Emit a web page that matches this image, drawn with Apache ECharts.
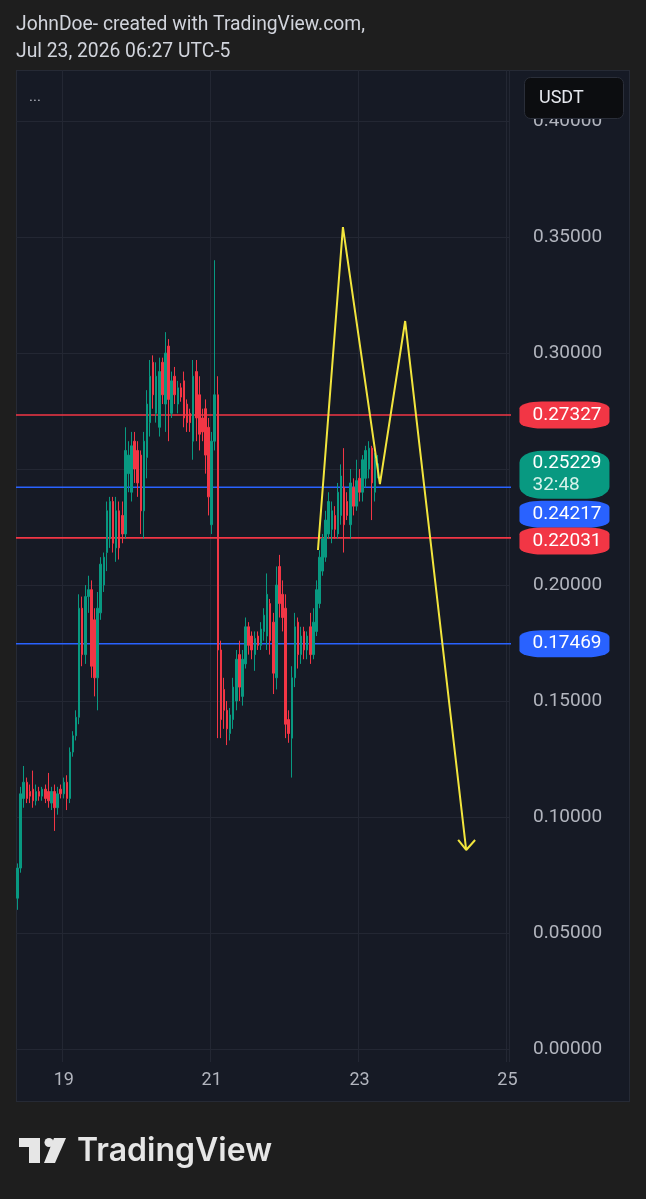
<!DOCTYPE html>
<html>
<head>
<meta charset="utf-8">
<script src="https://cdn.jsdelivr.net/npm/echarts@6/dist/echarts.min.js"></script>
<style>
  html, body { margin: 0; padding: 0; background: #1e1e1e; }
  #panel { position: absolute; left: 16px; top: 70px; width: 612px; height: 1030px; background: #161a25; border: 1px solid #262a35; }
  #chart { position: absolute; left: 0; top: 0; width: 646px; height: 1199px; }
</style>
</head>
<body>
<div id="panel"></div>
<div id="chart"></div>
<script>
// hourly candles, first one is Jul 18 09:00
const startDay = 18
const startHour = 9
const slotCount = 160 // hours on the time axis, up to Jul 25 00:00

const dayTicks = [19, 21, 23, 25]

// [open, high, low, close]
const ohlc = [
  [0.065, 0.080, 0.060, 0.078], [0.078, 0.113, 0.076, 0.110], [0.108, 0.122, 0.104, 0.115], [0.115, 0.117, 0.106, 0.108],
  [0.111, 0.114, 0.106, 0.109], [0.112, 0.120, 0.104, 0.107], [0.107, 0.114, 0.105, 0.111], [0.111, 0.113, 0.107, 0.109],
  [0.109, 0.113, 0.107, 0.112], [0.112, 0.114, 0.106, 0.108], [0.111, 0.119, 0.104, 0.107], [0.106, 0.113, 0.103, 0.111],
  [0.111, 0.114, 0.094, 0.104], [0.104, 0.113, 0.101, 0.110], [0.112, 0.114, 0.108, 0.110], [0.110, 0.117, 0.108, 0.115],
  [0.115, 0.118, 0.103, 0.108], [0.108, 0.130, 0.106, 0.128], [0.128, 0.137, 0.126, 0.135], [0.135, 0.146, 0.133, 0.143],
  [0.143, 0.196, 0.140, 0.190], [0.190, 0.195, 0.165, 0.170], [0.170, 0.200, 0.166, 0.195], [0.195, 0.204, 0.188, 0.198],
  [0.198, 0.202, 0.160, 0.165], [0.185, 0.190, 0.152, 0.160], [0.160, 0.197, 0.146, 0.190], [0.188, 0.212, 0.185, 0.209],
  [0.200, 0.214, 0.197, 0.212], [0.214, 0.236, 0.206, 0.232], [0.220, 0.238, 0.216, 0.236], [0.236, 0.238, 0.214, 0.218],
  [0.216, 0.238, 0.210, 0.232], [0.232, 0.236, 0.211, 0.216], [0.230, 0.236, 0.218, 0.222], [0.222, 0.268, 0.220, 0.258],
  [0.248, 0.262, 0.240, 0.256], [0.240, 0.266, 0.236, 0.260], [0.262, 0.266, 0.244, 0.250], [0.258, 0.262, 0.238, 0.244],
  [0.256, 0.258, 0.222, 0.232], [0.232, 0.266, 0.220, 0.262], [0.255, 0.284, 0.246, 0.278], [0.270, 0.297, 0.264, 0.290],
  [0.296, 0.299, 0.276, 0.282], [0.274, 0.296, 0.270, 0.290], [0.268, 0.298, 0.264, 0.292], [0.296, 0.298, 0.278, 0.282],
  [0.278, 0.309, 0.266, 0.300], [0.303, 0.306, 0.262, 0.280], [0.274, 0.292, 0.272, 0.288], [0.290, 0.294, 0.278, 0.282],
  [0.278, 0.288, 0.274, 0.285], [0.285, 0.287, 0.279, 0.281], [0.288, 0.292, 0.268, 0.272], [0.278, 0.280, 0.266, 0.270],
  [0.274, 0.276, 0.266, 0.270], [0.262, 0.297, 0.254, 0.290], [0.292, 0.297, 0.262, 0.272], [0.282, 0.290, 0.258, 0.265],
  [0.272, 0.276, 0.262, 0.266], [0.276, 0.280, 0.248, 0.256], [0.268, 0.272, 0.230, 0.238], [0.226, 0.266, 0.222, 0.262],
  [0.262, 0.340, 0.258, 0.282], [0.282, 0.290, 0.134, 0.172], [0.172, 0.176, 0.134, 0.142], [0.155, 0.160, 0.138, 0.146],
  [0.146, 0.150, 0.131, 0.138], [0.136, 0.147, 0.133, 0.144], [0.142, 0.160, 0.138, 0.156], [0.150, 0.172, 0.146, 0.168],
  [0.170, 0.176, 0.150, 0.156], [0.152, 0.172, 0.148, 0.168], [0.166, 0.186, 0.164, 0.182], [0.182, 0.184, 0.170, 0.174],
  [0.178, 0.180, 0.168, 0.172], [0.170, 0.180, 0.163, 0.177], [0.178, 0.180, 0.172, 0.174], [0.174, 0.184, 0.172, 0.181],
  [0.180, 0.190, 0.176, 0.187], [0.178, 0.205, 0.172, 0.196], [0.192, 0.194, 0.170, 0.176], [0.184, 0.188, 0.153, 0.162],
  [0.160, 0.208, 0.155, 0.200], [0.208, 0.213, 0.186, 0.192], [0.196, 0.202, 0.180, 0.186], [0.190, 0.196, 0.134, 0.140],
  [0.142, 0.146, 0.132, 0.136], [0.134, 0.165, 0.117, 0.160], [0.160, 0.188, 0.156, 0.182], [0.184, 0.186, 0.164, 0.170],
  [0.170, 0.182, 0.166, 0.178], [0.180, 0.182, 0.168, 0.172], [0.172, 0.180, 0.168, 0.178], [0.182, 0.188, 0.166, 0.170],
  [0.170, 0.190, 0.168, 0.184], [0.180, 0.202, 0.178, 0.198], [0.192, 0.215, 0.190, 0.212], [0.206, 0.222, 0.204, 0.220],
  [0.212, 0.232, 0.210, 0.228], [0.222, 0.240, 0.220, 0.236], [0.224, 0.236, 0.218, 0.232], [0.230, 0.234, 0.220, 0.224],
  [0.222, 0.244, 0.220, 0.240], [0.230, 0.252, 0.226, 0.247], [0.242, 0.259, 0.214, 0.226], [0.236, 0.240, 0.228, 0.230],
  [0.226, 0.250, 0.220, 0.244], [0.242, 0.246, 0.230, 0.234], [0.234, 0.254, 0.232, 0.245], [0.246, 0.250, 0.236, 0.240],
  [0.240, 0.256, 0.236, 0.254], [0.246, 0.260, 0.242, 0.258], [0.250, 0.262, 0.246, 0.259], [0.259, 0.260, 0.228, 0.244],
  [0.240, 0.257, 0.236, 0.254], [0.248, 0.256, 0.246, 0.25229]
]

// horizontal levels drawn on the chart
const levelValues = [0.27327, 0.24217, 0.22031, 0.17469]
const levelColors = ['#f23645', '#2962ff', '#f23645', '#2962ff']
const levelTagShift = [0, 27, 3, 0] // tags pushed apart on the price scale
const levelSpan = [-0.5, 162.5] // hours covered by the level lines (runs under the tags)

const lastPrice = 0.25229
const countdown = '32:48'

// hand drawn projection, x in hours from the first candle
const projX = [97.5, 105.6, 117.6, 125.8, 145.6]
const projY = [0.2151, 0.3543, 0.2435, 0.3138, 0.0858]
const arrowX = [143.0, 145.6, 148.5]
const arrowY = [0.0901, 0.0858, 0.0901]

const UP = '#089981'
const DOWN = '#f23645'
const FONT = 'Roboto, "Noto Sans", sans-serif'

const categories = []
for (let i = 0; i < slotCount; i++) {
  const h = startHour + i
  const d = startDay + Math.floor(h / 24)
  categories.push(d + ' ' + String(h % 24).padStart(2, '0') + ':00')
}
const isDayTick = val => val.endsWith(' 00:00') && dayTicks.includes(+val.split(' ')[0])
const lastSlot = categories[slotCount - 1]

const tag = (value, color, shift) => ({
  coord: [lastSlot, value],
  symbol: 'roundRect',
  symbolSize: [90, 27],
  symbolOffset: [57, shift],
  itemStyle: { color: color },
  label: {
    show: true,
    position: 'insideLeft',
    distance: 13,
    formatter: value.toFixed(5),
    color: '#ffffff',
    fontSize: 19,
    fontFamily: FONT
  }
})

// level lines as flat two point lines on the hidden hour axis
const levelSeries = levelValues.map((v, i) => ({
  type: 'line',
  xAxisIndex: 1,
  data: levelSpan.map(x => [x, v]),
  symbol: 'none',
  clip: false,
  silent: true,
  z: 1,
  lineStyle: { color: levelColors[i], width: 1.6 }
}))

const chart = echarts.init(document.getElementById('chart'))

chart.setOption({
  backgroundColor: 'transparent',
  animation: false,
  grid: { left: 16, right: 137, top: 70, bottom: 137 },
  xAxis: [
    {
      type: 'category',
      data: categories,
      boundaryGap: true,
      axisLine: { show: false },
      axisTick: { show: false, interval: (i, v) => isDayTick(v) },
      axisLabel: {
        interval: (i, v) => isDayTick(v),
        formatter: v => v.split(' ')[0],
        color: '#b2b5be',
        fontSize: 18,
        fontFamily: FONT,
        margin: 9
      },
      splitLine: { show: true, interval: (i, v) => isDayTick(v), lineStyle: { color: '#232733', width: 1 } }
    },
    { type: 'value', min: -0.5, max: slotCount - 0.5, show: false }
  ],
  yAxis: {
    type: 'value',
    position: 'right',
    min: -0.0056,
    max: 0.422,
    splitNumber: 8,
    axisLine: { show: false },
    axisTick: { show: false },
    axisLabel: {
      showMinLabel: false,
      showMaxLabel: false,
      formatter: v => v.toFixed(5),
      color: '#b2b5be',
      fontSize: 19,
      fontFamily: FONT,
      margin: 24
    },
    splitLine: { show: true, showMinLine: false, showMaxLine: false, lineStyle: { color: '#232733', width: 1 } }
  },
  series: [
    ...levelSeries,
    {
      type: 'candlestick',
      data: ohlc.map(r => [r[0], r[3], r[2], r[1]]),
      barWidth: 2,
      z: 2,
      itemStyle: { color: UP, color0: DOWN, borderColor: UP, borderColor0: DOWN, borderWidth: 1 },
      silent: true
    },
    {
      type: 'line',
      data: [],
      clip: false,
      silent: true,
      z: 3,
      markPoint: {
        silent: true,
        data: levelValues.map((v, i) => tag(v, levelColors[i], levelTagShift[i])).concat([{
          coord: [lastSlot, lastPrice],
          symbol: 'roundRect',
          symbolSize: [90, 48],
          symbolOffset: [57, 11],
          itemStyle: { color: UP },
          label: {
            show: true,
            position: 'insideLeft',
            distance: 13,
            formatter: '{p|' + lastPrice.toFixed(5) + '}\n{t|' + countdown + '}',
            rich: {
              p: { color: '#ffffff', fontSize: 19, fontFamily: FONT, lineHeight: 22 },
              t: { color: '#d6f2ea', fontSize: 19, fontFamily: FONT, lineHeight: 22 }
            }
          }
        }])
      }
    },
    {
      type: 'line',
      xAxisIndex: 1,
      data: projX.map((x, i) => [x, projY[i]]),
      symbol: 'none',
      clip: false,
      silent: true,
      z: 3,
      lineStyle: { color: '#f2e53d', width: 2 }
    },
    {
      type: 'line',
      xAxisIndex: 1,
      data: arrowX.map((x, i) => [x, arrowY[i]]),
      symbol: 'none',
      clip: false,
      silent: true,
      z: 3,
      lineStyle: { color: '#f2e53d', width: 2 }
    }
  ],
  graphic: [
    { type: 'text', z: 100, x: 16, y: 25, style: { text: 'JohnDoe- created with TradingView.com,', fill: '#d1d4dc', font: '19.3px ' + FONT, verticalAlign: 'middle' } },
    { type: 'text', z: 100, x: 16, y: 52, style: { text: 'Jul 23, 2026 06:27 UTC-5', fill: '#d1d4dc', font: '19.3px ' + FONT, verticalAlign: 'middle' } },
    { type: 'text', z: 100, x: 29, y: 97, style: { text: '...', fill: '#b2b5be', font: '15px ' + FONT, verticalAlign: 'middle' } },
    { type: 'rect', z: 100, shape: { x: 524.5, y: 77.5, width: 99, height: 41, r: 6 }, style: { fill: '#0c0d10', stroke: '#2a2e39', lineWidth: 1 } },
    { type: 'text', z: 101, x: 539, y: 98, style: { text: 'USDT', fill: '#e6e8ee', font: '18px ' + FONT, verticalAlign: 'middle' } },
    // TradingView logo
    { type: 'polygon', z: 100, shape: { points: [[19, 1138], [40, 1138], [40, 1163], [29, 1163], [29, 1147], [19, 1147]] }, style: { fill: '#e6e6e6' } },
    { type: 'circle', z: 100, shape: { cx: 49, cy: 1142.5, r: 4.5 }, style: { fill: '#e6e6e6' } },
    { type: 'polygon', z: 100, shape: { points: [[54, 1138], [66, 1138], [55, 1163], [44, 1163]] }, style: { fill: '#e6e6e6' } },
    { type: 'text', z: 100, x: 77, y: 1151, style: { text: 'TradingView', fill: '#e6e6e6', font: '600 32px Inter, ' + FONT, verticalAlign: 'middle' } }
  ]
})
</script>
</body>
</html>
